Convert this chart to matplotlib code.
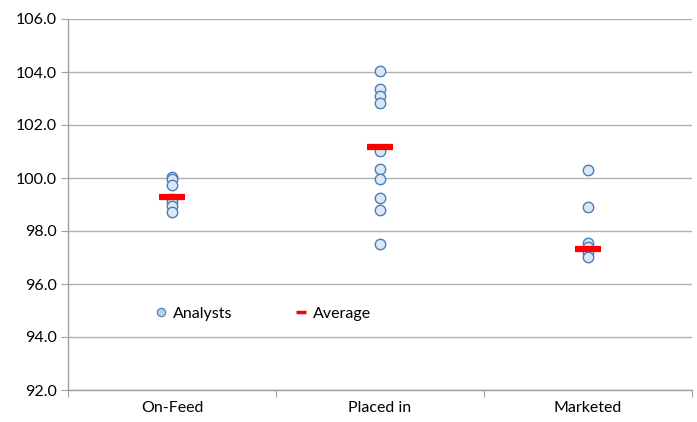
import matplotlib
matplotlib.use("Agg")
import matplotlib.pyplot as plt
from matplotlib.lines import Line2D

categories = ["On-Feed", "Placed in", "Marketed"]
on_feed = [100.05, 99.95, 99.75, 99.2, 99.1, 98.95, 98.7]
placed_in = [104.04, 103.35, 103.1, 102.82, 101.02, 100.33, 99.95, 99.23, 98.79, 97.51]
marketed = [100.3, 98.92, 97.54, 97.4, 97.16, 97.03]
averages = [99.28, 101.18, 97.31]
y_ticks = [92.0, 94.0, 96.0, 98.0, 100.0, 102.0, 104.0, 106.0]

plt.rcParams['font.family'] = ['Lato', 'DejaVu Sans']

fig = plt.figure(figsize=(6.97, 4.22), dpi=100)
ax = fig.add_axes([68/697, 1 - 390/422, (692-68)/697, (390-19)/422])

series = [on_feed, placed_in, marketed]
for i, vals in enumerate(series):
    ax.plot([i + 0.5] * len(vals), vals, linestyle='none', marker='o', markersize=7.5,
            markerfacecolor='#dce6f4', markeredgecolor='#4a7ebb', markeredgewidth=1.0, zorder=3)
ax.plot([i + 0.5 for i in range(3)], averages, linestyle='none', marker='_', markersize=19,
        markeredgewidth=4.5, color='#ff0000', zorder=4)

ax.set_xlim(0, 3)
ax.set_ylim(92, 106)
ax.set_yticks(y_ticks)
ax.set_yticklabels([f"{v:.1f}" for v in y_ticks])
ax.set_xticks([0, 1, 2, 3])
ax.set_xticklabels([])
ax.set_xticks([0.5, 1.5, 2.5], minor=True)
ax.set_xticklabels(categories, minor=True)
ax.tick_params(axis='x', which='minor', length=0, pad=8, labelsize=11.5, colors='#000000')
ax.tick_params(axis='x', which='major', length=5, color='#a0a0a0', direction='out')
ax.tick_params(axis='y', length=5, color='#a0a0a0', labelsize=11.5, pad=3)

ax.grid(axis='y', color='#b0b0b0', linewidth=1.0)
ax.set_axisbelow(True)
for s in ['top', 'right']:
    ax.spines[s].set_visible(False)
for s in ['left', 'bottom']:
    ax.spines[s].set_color('#a0a0a0')
    ax.spines[s].set_linewidth(1.0)

handles = [
    Line2D([], [], linestyle='none', marker='o', markersize=6, markerfacecolor='#b9cde8',
           markeredgecolor='#4a7ebb', markeredgewidth=0.8),
    Line2D([], [], linestyle='none', marker='_', markersize=7, markeredgewidth=2.5, color='#ff0000'),
]
ax.legend(handles, ["Analysts", "Average"], ncol=2, frameon=False, loc='center left',
          bbox_to_anchor=(0.111, 0.205), fontsize=11.5, columnspacing=3.65, handletextpad=0.15,
          handlelength=1.2)

fig.savefig("out.png", dpi=100)
